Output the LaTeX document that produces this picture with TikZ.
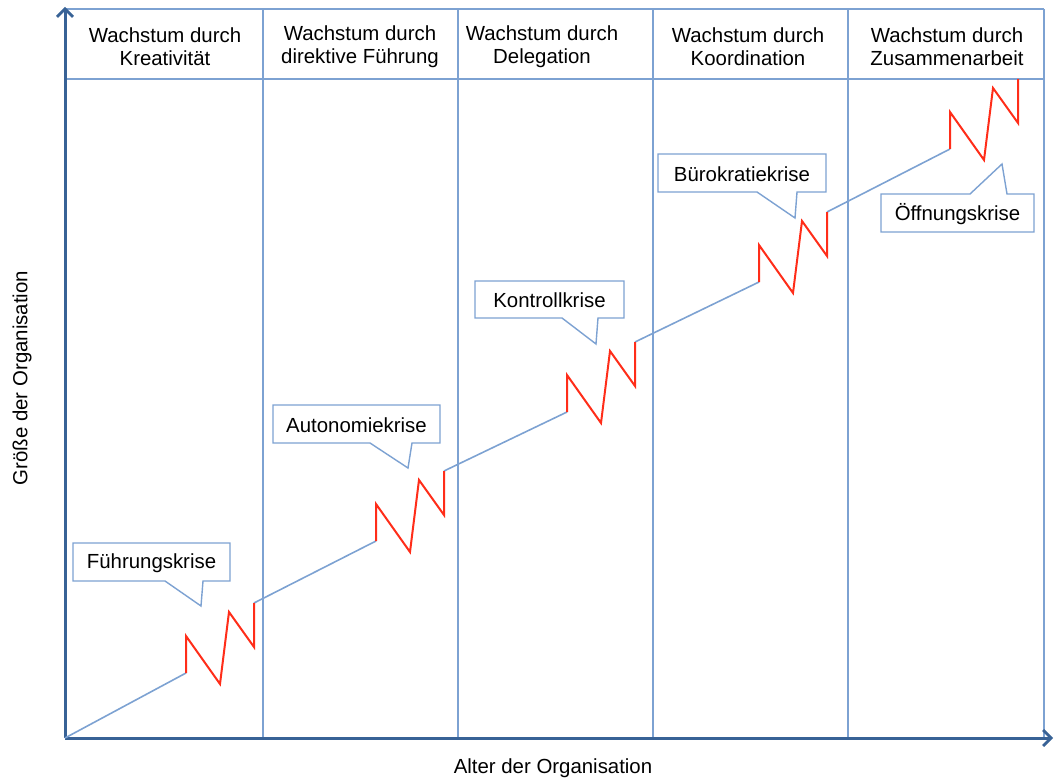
\documentclass[tikz,border=0pt]{standalone}
\usepackage{fontspec}
\setmainfont{Liberation Sans}
\usetikzlibrary{arrows.meta}

\definecolor{axisblue}{RGB}{56,98,150}
\definecolor{gridblue}{RGB}{125,162,210}
\definecolor{crisisred}{RGB}{255,45,25}

\begin{document}
\begin{tikzpicture}[x=1pt, y=-1pt,
	grid/.style={draw=gridblue, line width=1.4pt},
	axis/.style={draw=axisblue, line width=3pt, -{Straight Barb[length=8pt, width=16pt, line width=2.8pt]}},
	growth/.style={draw=gridblue, line width=1.6pt},
	crisis line/.style={draw=crisisred, line width=2pt, line join=miter},
	callout/.style={draw=gridblue, line width=1.4pt, fill=white},
	label/.style={font=\fontsize{20.4}{23}\selectfont, align=center, inner sep=0pt}]

\def\width{1054}
\def\height{778}
\def\ox{65}
\def\oy{738}

\path [use as bounding box] (0,0) rectangle (\width,\height);

% HEADER AND COLUMNS
\draw [grid] (\ox,9) -- (1044,9);
\draw [grid] (\ox,79) -- (1044,79);
\foreach \x in {263,458,653,848,1044}
	\draw [grid] (\x,9) -- (\x,\oy);

\node [label] (kreativ) at (165,47) {Wachstum durch\\Kreativität};
\node [label] (direktiv) at (360,47) {Wachstum durch\\direktive Führung};
\node [label] (delegation) at (542,47) {Wachstum durch\\Delegation};
\node [label] (koordination) at (748,47) {Wachstum durch\\Koordination};
\node [label] (zusammen) at (947,47) {Wachstum durch\\Zusammenarbeit};

% AXES
\draw [axis] (\ox,\oy) -- (\ox,7);
\draw [axis] (\ox,\oy) -- (1053,\oy);
\node [label, rotate=90] (groesse) at (22,378) {Größe der Organisation};
\node [label] (alter) at (553,768) {Alter der Organisation};

% GROWTH
\draw [growth] (\ox,\oy) -- (186,673);
\draw [growth] (254,603) -- (376,541);
\draw [growth] (444,471) -- (567,412);
\draw [growth] (635,342) -- (759,282);
\draw [growth] (827,212) -- (950,149);

% CRISES
\foreach \x/\y in {186/673, 376/541, 567/412, 759/282, 950/149}
	\draw [crisis line] (\x,\y) -- ++(0,-37) -- ++(34,48) -- ++(9,-72) -- ++(25,35) -- ++(0,-44);

% CALLOUTS
\draw [callout] (73,543) -- (230,543) -- (230,581) -- (203,581) -- (201,606) -- (165,581) -- (73,581) -- cycle;
\node [label] (fuehrung) at (151.5,563) {Führungskrise};

\draw [callout] (273,405) -- (440,405) -- (440,443) -- (412,443) -- (408,468) -- (370,443) -- (273,443) -- cycle;
\node [label] (autonomie) at (356.5,425) {Autonomiekrise};

\draw [callout] (475,281) -- (624,281) -- (624,318) -- (598,318) -- (596,344) -- (562,318) -- (475,318) -- cycle;
\node [label] (kontrolle) at (549.5,300.5) {Kontrollkrise};

\draw [callout] (658,154) -- (826,154) -- (826,192) -- (797,192) -- (795,218) -- (757,192) -- (658,192) -- cycle;
\node [label] (buerokratie) at (742,174) {Bürokratiekrise};

\draw [callout] (881,194) -- (970,194) -- (1002,164) -- (1007,194) -- (1034,194) -- (1034,232) -- (881,232) -- cycle;
\node [label] (oeffnung) at (957.5,214) {Öffnungskrise};

\end{tikzpicture}
\end{document}
